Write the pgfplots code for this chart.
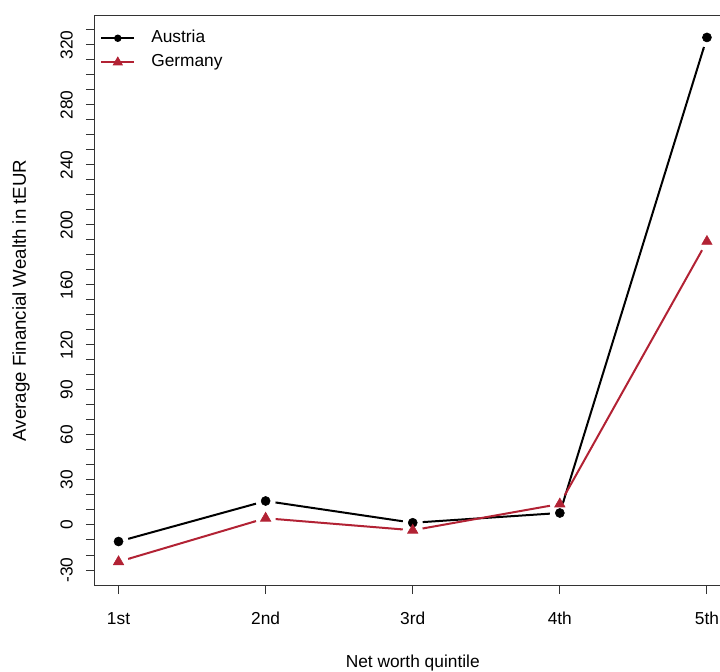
\documentclass[border=0pt]{standalone}
\usepackage{fontspec}
\setmainfont{Liberation Sans}
\usepackage{pgfplots}
\pgfplotsset{compat=1.18}
\usetikzlibrary{arrows.meta}
\definecolor{gred}{RGB}{178,34,52}
\begin{document}
\begin{tikzpicture}
\useasboundingbox (-71.25pt,-64.5pt) rectangle (468.75pt,438.75pt);
\clip (-71.25pt,-64.5pt) rectangle (468.75pt,438.75pt);
\begin{axis}[
  at={(0pt,0pt)}, anchor=south west,
  scale only axis, width=476.6pt, height=426.75pt,
  xmin=0.84, xmax=5.16, ymin=-40, ymax=339.3,
  axis line style={black!80, line width=0.75pt},
  every tick/.style={black!80, line width=0.75pt},
  tick align=outside, tick pos=left,
  major tick length=6.75pt, minor tick length=6.75pt,
  xtick={1,2,3,4,5}, xticklabels={1st,2nd,3rd,4th,5th},
  ytick={-30,0,30,60,90,120,160,200,240,280,320},
  minor ytick={-20,-10,10,20,40,50,70,80,100,110,130,140,150,170,180,190,210,220,230,250,260,270,290,300,310,330},
  /pgf/number format/assume math mode=true,
  ticklabel style={font=\fontsize{13}{15.6}\selectfont},
  xticklabel style={anchor=base, yshift=-22.5pt},
  yticklabel style={rotate=90, anchor=base},
  yticklabel shift=10pt,
  xlabel={Net worth quintile},
  ylabel={Average Financial Wealth in tEUR},
  xlabel style={font=\fontsize{13}{15.6}\selectfont, at={(axis description cs:0.5,-0.1441)}, anchor=base},
  ylabel style={font=\fontsize{14}{16.8}\selectfont, at={(axis description cs:-0.1086,0.5)}, anchor=base},
  legend style={draw=none, fill=none, at={(axis description cs:0,1)}, anchor=north west,
    inner sep=0pt, xshift=3.75pt, yshift=-10pt, font=\fontsize{13}{15.6}\selectfont,
    nodes={text height=9.5pt, text depth=3.5pt, inner sep=0pt},
    row sep=5pt, column sep=12pt},
  legend cell align=left,
  legend image code/.code={\draw[#1, mark repeat=2, mark phase=2] plot coordinates {(0pt,0pt)(12.4pt,0pt)(24.75pt,0pt)};},
  aline/.style={black, line width=1.5pt, {Butt Cap[]}-{Butt Cap[]}, shorten >=7.5pt, shorten <=7.5pt, forget plot, mark=none},
  gline/.style={gred, line width=1.5pt, {Butt Cap[]}-{Butt Cap[]}, shorten >=7.5pt, shorten <=7.5pt, forget plot, mark=none},
]
\addlegendimage{black, line width=1.5pt, mark=*, mark size=2pt}
\addlegendentry{Austria}
\addlegendimage{gred, line width=1.5pt, mark=triangle*, mark size=3pt}
\addlegendentry{Germany}
% Austria segments
\addplot[aline] coordinates {(1,-11) (2,16)};
\addplot[aline] coordinates {(2,16) (3,1.5)};
\addplot[aline] coordinates {(3,1.5) (4,8)};
\addplot[aline] coordinates {(4,8) (5,325)};
% Germany segments
\addplot[gline] coordinates {(1,-24.5) (2,4.5)};
\addplot[gline] coordinates {(2,4.5) (3,-3.5)};
\addplot[gline] coordinates {(3,-3.5) (4,14)};
\addplot[gline] coordinates {(4,14) (5,189)};
% markers
\addplot[only marks, mark=*, mark size=3.4pt, black, forget plot] coordinates {(1,-11) (2,16) (3,1.5) (4,8) (5,325)};
\addplot[only marks, mark=triangle*, mark size=4.5pt, gred, forget plot] coordinates {(1,-24.5) (2,4.5) (3,-3.5) (4,14) (5,189)};
\end{axis}
\end{tikzpicture}
\end{document}
